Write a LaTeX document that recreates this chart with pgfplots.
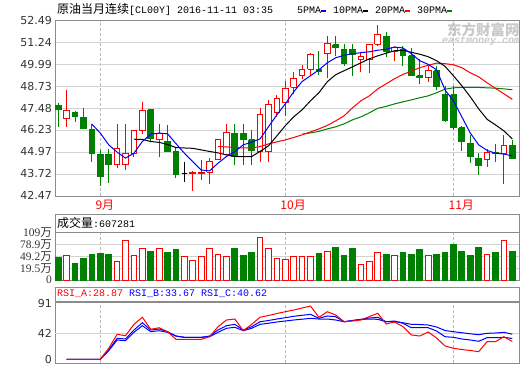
\documentclass[border=0pt]{standalone}
\usepackage{pgfplots}
\pgfplotsset{compat=1.18}
\usepackage{pgfplotstable}
\usepackage{fontspec}
\setmainfont{DejaVu Sans}
\newfontfamily\cjk{Noto Sans CJK SC}
\newfontfamily\mono{Liberation Mono}
\newfontfamily\numserif{Liberation Serif}
\definecolor{cred}{HTML}{FF0000}
\definecolor{cgreen}{HTML}{008000}
\definecolor{cblue}{HTML}{0000FF}
\definecolor{framec}{HTML}{8C8C8C}
\definecolor{gridc}{HTML}{D2D2D2}
\definecolor{wm}{HTML}{C8C8C8}

% OHLC candles
\pgfplotstableread{
i o h l c
0 47.61 47.77 46.42 47.42
1 46.87 48.49 46.42 47.34
2 47.25 47.34 46.68 47.00
3 46.96 47.48 46.28 46.33
4 46.24 46.56 44.42 44.90
5 44.84 45.09 43.05 43.56
6 44.84 45.15 43.18 44.27
7 44.23 46.56 44.08 45.19
8 44.23 46.56 43.94 44.90
9 44.90 46.20 44.71 46.18
10 46.18 47.82 45.99 47.32
11 47.38 47.38 45.57 45.76
12 45.66 46.56 44.71 46.05
13 45.57 46.52 44.96 44.99
14 44.99 45.22 43.47 43.70
15 43.76 44.39 43.27 43.76
16 43.74 43.89 42.76 43.77
17 43.72 44.52 43.37 43.79
18 43.81 44.65 43.13 44.42
19 44.56 45.66 44.52 45.66
20 44.84 46.56 44.80 46.10
21 46.05 46.56 44.23 44.71
22 46.05 46.56 44.23 45.66
23 45.66 46.23 44.23 45.03
24 44.99 47.51 44.42 47.13
25 44.99 47.95 44.39 47.71
26 47.24 48.24 46.98 48.01
27 47.82 49.04 47.05 48.62
28 48.68 49.54 48.30 49.20
29 49.33 49.96 49.14 49.71
30 49.71 50.63 49.39 50.57
31 49.67 50.76 49.39 49.58
32 50.63 51.62 49.20 51.16
33 51.10 51.58 50.47 50.92
34 50.86 51.16 49.90 50.02
35 50.86 51.16 49.33 50.53
36 50.28 50.66 49.54 50.43
37 50.28 51.10 49.48 51.10
38 51.14 52.25 51.01 51.68
39 51.58 51.83 50.43 50.72
40 50.72 51.05 50.20 50.97
41 50.86 51.01 49.86 50.47
42 50.47 50.91 49.33 49.33
43 49.33 50.28 48.87 49.23
44 49.25 49.96 49.00 49.62
45 49.62 49.86 48.49 48.72
46 48.24 48.72 46.71 46.77
47 48.24 48.72 46.20 46.39
48 46.37 46.47 45.03 45.57
49 45.47 45.95 44.36 44.71
50 44.62 44.90 43.64 44.19
51 44.52 45.13 44.13 44.96
52 44.94 45.43 44.42 44.88
53 44.90 45.95 43.13 45.34
54 45.32 45.66 44.56 44.62
}\candles

\pgfplotstableread{
i v
4 46.56
5 46.05
6 45.38
7 44.96
8 44.62
9 44.90
10 45.57
11 45.99
12 46.05
13 46.01
14 45.45
15 44.90
16 44.42
17 43.94
18 43.89
19 44.33
20 44.71
21 44.99
22 45.38
23 45.53
24 45.72
25 46.41
26 47.09
27 47.72
28 48.41
29 49.00
30 49.33
31 49.67
32 50.07
33 50.36
34 50.50
35 50.59
36 50.65
37 50.70
38 50.79
39 50.85
40 50.97
41 50.92
42 50.59
43 50.19
44 49.98
45 49.67
46 48.52
47 47.90
48 46.98
49 46.06
50 45.38
51 45.06
52 44.90
53 44.85
54 44.75
}\mafive

\pgfplotstableread{
i v
9 45.70
10 45.69
11 45.57
12 45.52
13 45.40
14 45.22
15 45.20
16 45.18
17 45.09
18 45.00
19 44.92
20 44.80
21 44.71
22 44.71
23 44.71
24 45.00
25 45.32
26 45.89
27 46.47
28 46.98
29 47.38
30 47.90
31 48.36
32 48.99
33 49.39
34 49.62
35 49.84
36 50.07
37 50.30
38 50.47
39 50.62
40 50.76
41 50.79
42 50.67
43 50.56
44 50.42
45 50.19
46 49.87
47 49.33
48 48.76
49 48.13
50 47.44
51 46.84
52 46.52
53 46.18
54 45.72
}\maten

\pgfplotstableread{
i v
19 45.28
20 45.26
21 45.23
22 45.20
23 45.20
24 45.28
25 45.43
26 45.55
27 45.66
28 45.80
29 45.95
30 46.12
31 46.29
32 46.49
33 46.75
34 47.04
35 47.50
36 47.90
37 48.18
38 48.58
39 48.87
40 49.16
41 49.41
42 49.59
43 49.79
44 49.93
45 50.05
46 50.02
47 49.96
48 49.79
49 49.50
50 49.27
51 48.93
52 48.61
53 48.30
54 47.98
}\matwenty

\pgfplotstableread{
i v
29 45.99
30 46.06
31 46.15
32 46.29
33 46.41
34 46.58
35 46.81
36 46.98
37 47.21
38 47.47
39 47.58
40 47.72
41 47.84
42 47.95
43 48.07
44 48.18
45 48.36
46 48.56
47 48.64
48 48.66
49 48.66
50 48.66
51 48.64
52 48.62
53 48.58
54 48.53
}\mathirty

% volume in 10^4 lots; d = 1 rising day, 2 falling day
\pgfplotstableread{
i v d
0 45.9 2
1 51.8 1
2 30.2 2
3 45.1 2
4 52.6 2
5 57.5 2
6 52.6 2
7 36.9 1
8 87.4 1
9 51.8 1
10 67.5 1
11 62.5 2
12 69.2 1
13 60.0 2
14 65.0 2
15 49.3 1
16 39.4 1
17 49.3 1
18 67.5 1
19 54.3 1
20 49.3 1
21 67.5 2
22 50.1 2
23 60.0 2
24 96.6 1
25 67.5 1
26 45.1 1
27 42.6 1
28 49.3 1
29 47.6 1
30 49.3 1
31 55.1 2
32 61.8 1
33 70.0 2
34 50.1 2
35 67.5 2
36 29.4 1
37 36.9 1
38 59.3 1
39 52.6 2
40 51.8 1
41 60.0 2
42 52.6 2
43 65.0 2
44 51.8 1
45 52.6 2
46 60.0 2
47 79.9 2
48 62.5 2
49 50.1 2
50 70.0 2
51 54.3 1
52 60.0 2
53 87.4 1
54 60.73 2
}\volume

\pgfplotstableread{
i a b c
1 0 0 0
2 0 0 0
3 0 0 0
4 0 0 0
5 0 0 0
6 17.8 15.0 13.9
7 40.4 33.9 31.2
8 38.1 32.8 30.0
9 56.5 47.3 43.6
10 67.9 59.1 54.3
11 48.5 47.3 44.6
12 51.0 49.0 46.2
13 44.6 44.6 43.6
14 32.3 37.6 37.6
15 32.3 35.5 35.5
16 32.3 35.5 35.5
17 32.3 35.5 35.5
18 36.5 37.6 36.5
19 52.7 47.3 43.6
20 63.5 54.3 50.1
21 65.1 56.5 51.7
22 46.2 47.3 46.2
23 56.5 52.7 50.1
24 67.9 60.7 56.5
25 70.8 62.7 58.3
26 74.0 65.1 60.3
27 76.9 67.2 61.9
28 79.6 69.5 63.5
29 82.9 71.1 64.8
30 86.1 72.7 66.2
31 67.9 66.2 65.1
32 76.9 70.0 65.1
33 71.6 68.8 63.5
34 60.7 60.7 60.7
35 61.9 62.7 62.7
36 63.5 64.6 64.3
37 69.1 66.7 65.1
38 74.3 67.9 64.6
39 57.0 60.7 60.7
40 60.3 61.9 61.1
41 52.7 58.2 59.1
42 39.3 51.0 56.5
43 37.6 51.0 56.2
44 44.1 51.0 55.4
45 34.4 45.7 52.2
46 21.5 36.5 46.5
47 17.8 35.5 44.6
48 15.8 32.8 43.0
49 14.2 31.2 41.2
50 12.3 29.1 39.7
51 28.4 34.9 42.0
52 28.4 34.9 42.5
53 36.5 35.5 43.6
54 28.87 33.67 40.62
}\rsi

\pgfplotsset{
  panel/.style={
    scale only axis, width=464pt,
    xmin=-0.39, xmax=54.8,
    axis line style={framec},
    major tick length=0pt,
    xtick={5,27,47},
    xmajorgrids,
    x grid style={gridc!70!gray, dash pattern=on 3pt off 2pt},
    y grid style={gridc},
    yticklabel style={anchor=east, inner sep=0pt, xshift=-3pt, text=black!80},
    clip=true,
  }
}
\newcommand\mdash[1]{\makebox[6pt][l]{\textcolor{#1}{\rule[2pt]{5pt}{2.2pt}}}}

\begin{document}
\begin{tikzpicture}[x=1pt,y=1pt]
\path[use as bounding box] (0,0) rectangle (520,365);

% title line
\node[anchor=base west, inner sep=0pt] at (57,351)
  {{\cjk\fontsize{12}{14}\selectfont 原油当月连续}{\mono\fontsize{10}{12}\selectfont [CL00Y] 2016-11-11 03:35}};
\node[anchor=base west, inner sep=0pt] at (297,351)
  {\mono\fontsize{10}{12}\selectfont 5PMA\mdash{cblue} 10PMA\mdash{black} 20PMA\mdash{cred} 30PMA\mdash{cgreen}};

% watermark
\node[anchor=west, inner sep=0pt, text=wm] at (447,335) {\cjk\bfseries\fontsize{14.5}{15}\selectfont 东方财富网};
\node[anchor=base west, inner sep=0pt, text=wm] at (442,321) {\mono\bfseries\itshape\fontsize{10}{10}\selectfont eastmoney.com};

% ---------- price panel ----------
\begin{axis}[panel, at={(55pt,169.3pt)}, anchor=south west, height=175.2pt,
  ymin=42.47, ymax=52.49,
  ytick={42.47,43.72,44.97,46.23,47.48,48.73,49.99,51.24,52.49},
  yticklabels={42.47,43.72,44.97,46.23,47.48,48.73,49.99,51.24,52.49},
  yticklabel style={font=\fontsize{11}{11}\selectfont},
  ymajorgrids,
  xticklabels={9月,10月,11月},
  xticklabel style={font=\cjk\fontsize{12}{12}\selectfont, text=cred, anchor=north west, inner sep=0pt, xshift=-5pt, yshift=-4pt},
]
\pgfplotsinvokeforeach{0,...,54}{%
  \pgfplotstablegetelem{#1}{o}\of\candles\let\cO\pgfplotsretval
  \pgfplotstablegetelem{#1}{h}\of\candles\let\cH\pgfplotsretval
  \pgfplotstablegetelem{#1}{l}\of\candles\let\cL\pgfplotsretval
  \pgfplotstablegetelem{#1}{c}\of\candles\let\cC\pgfplotsretval
  \pgfmathsetmacro\xa{#1-0.34}%
  \pgfmathsetmacro\xb{#1+0.34}%
  \pgfmathtruncatemacro\dir{(\cC>\cO) ? 1 : ((\cC<\cO) ? 2 : 0)}%
  \ifcase\dir\relax \def\cc{black}\def\ff{black}\or \def\cc{cred}\def\ff{white}\or \def\cc{cgreen}\def\ff{cgreen}\fi
  \edef\doit{%
    \noexpand\addplot[draw=\cc, line width=1pt] coordinates {(#1,\cL) (#1,\cH)};
    \noexpand\addplot[draw=\cc, fill=\ff, line width=1pt, line join=miter] coordinates {(\xa,\cO) (\xb,\cO) (\xb,\cC) (\xa,\cC) (\xa,\cO)};
  }\doit
}
\addplot[cgreen, line width=1pt] table[x=i,y=v] {\mathirty};
\addplot[cred, line width=1pt] table[x=i,y=v] {\matwenty};
\addplot[black, line width=1pt] table[x=i,y=v] {\maten};
\addplot[cblue, line width=1pt] table[x=i,y=v] {\mafive};
\end{axis}

% ---------- volume panel ----------
\draw[framec, line width=1pt] (55,150.7) rectangle (519,132.7);
\node[anchor=west, inner sep=0pt] at (57,142)
  {{\cjk\fontsize{12}{14}\selectfont 成交量}{\mono\fontsize{10}{12}\selectfont :607281}};
\begin{axis}[panel, at={(55pt,85pt)}, anchor=south west, height=47.7pt,
  ymin=-9.6, ymax=109,
  ytick={-9.6,19.5,49.2,78.9,109},
  yticklabels={0,19.5{\cjk 万},49.2{\cjk 万},78.9{\cjk 万},109{\cjk 万}},
  yticklabel style={font=\numserif\fontsize{11.5}{11}\selectfont},
  ymajorgrids,
  xticklabels={},
]
\pgfplotsinvokeforeach{0,...,54}{%
  \pgfplotstablegetelem{#1}{v}\of\volume\let\vV\pgfplotsretval
  \pgfplotstablegetelem{#1}{d}\of\volume\let\vD\pgfplotsretval
  \pgfmathsetmacro\xa{#1-0.34}%
  \pgfmathsetmacro\xb{#1+0.34}%
  \ifnum\vD=1\relax \def\cc{cred}\def\ff{white}\else \def\cc{cgreen}\def\ff{cgreen}\fi
  \edef\doit{%
    \noexpand\addplot[draw=\cc, fill=\ff, line width=1pt, line join=miter] coordinates {(\xa,-12) (\xb,-12) (\xb,\vV) (\xa,\vV) (\xa,-12)};
  }\doit
}
\end{axis}

% ---------- RSI panel ----------
\draw[framec, line width=1pt] (55,77.7) rectangle (519,63.3);
\node[anchor=west, inner sep=0pt] at (57,71)
  {\mono\fontsize{10}{12}\selectfont\textcolor{cred}{RSI\_A:28.87} \textcolor{cblue}{RSI\_B:33.67} \textcolor{cblue}{RSI\_C:40.62}};
\begin{axis}[panel, at={(55pt,1.7pt)}, anchor=south west, height=61.6pt,
  ymin=-6.5, ymax=93.1,
  ytick={0,91}, yticklabels={0,91},
  extra y ticks={42}, extra y tick labels={42},
  extra y tick style={grid=major},
  yticklabel style={font=\fontsize{11}{11}\selectfont},
  xticklabels={},
]
\addplot[cblue, line width=1pt] table[x=i,y=c] {\rsi};
\addplot[cblue, line width=1pt] table[x=i,y=b] {\rsi};
\addplot[cred, line width=1pt] table[x=i,y=a] {\rsi};
\end{axis}
\end{tikzpicture}
\end{document}
